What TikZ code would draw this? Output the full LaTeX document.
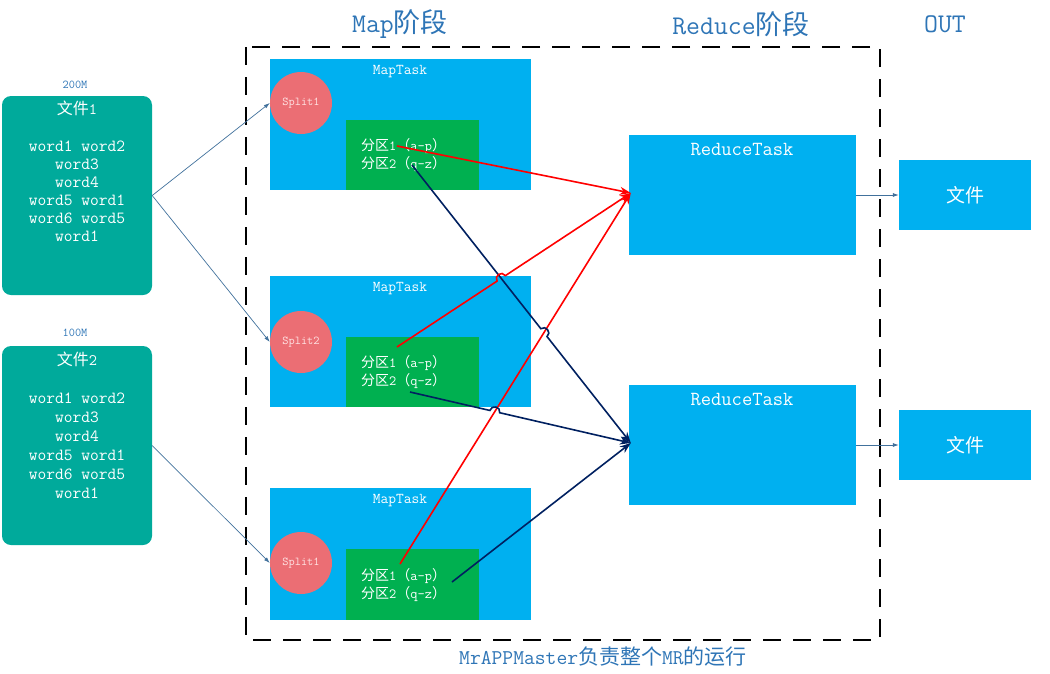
\documentclass[tikz,border=0pt]{standalone}
\usepackage{fontspec}
\newfontfamily\cjk{Noto Sans CJK SC}
\renewcommand{\familydefault}{\ttdefault}
\usetikzlibrary{arrows.meta,calc,intersections}
\definecolor{tealbox}{HTML}{00AA9B}
\definecolor{sky}{HTML}{00B0F0}
\definecolor{grn}{HTML}{00B050}
\definecolor{salmon}{HTML}{EB6E74}
\definecolor{ttl}{HTML}{2E75B6}
\definecolor{navyc}{HTML}{002060}
\definecolor{thinc}{HTML}{41719C}
\definecolor{pinkt}{HTML}{FFE4E4}
\newcommand{\zh}[1]{{\cjk #1}}
\begin{document}
\begin{tikzpicture}[x=1pt,y=-1pt,
  filebox/.style={draw=none,fill=tealbox,rounded corners=9pt,minimum width=150pt,minimum height=199pt,inner sep=0pt},
  maptask/.style={draw=none,fill=sky,minimum width=261pt,minimum height=131pt,inner sep=0pt},
  partbox/.style={draw=none,fill=grn,minimum width=133pt,minimum height=70pt,inner sep=0pt},
  splitc/.style={circle,draw=none,fill=salmon,minimum size=62pt,inner sep=0pt,text=pinkt,font=\fontsize{12}{14}\selectfont},
  redbox/.style={draw=none,fill=sky,minimum width=227pt,minimum height=120pt,inner sep=0pt},
  outbox/.style={draw=none,fill=sky,minimum width=132pt,minimum height=70pt,inner sep=0pt,text=white,font=\fontsize{19}{21}\selectfont},
  whitetxt/.style={text=white,inner sep=0pt},
  ttltxt/.style={text=ttl,inner sep=0pt},
  thinarrow/.style={draw=thinc,line width=0.7pt,-{Latex[length=6pt,width=4pt]}},
  redarrow/.style={draw=red,line width=1.6pt,-{Stealth[length=11pt,width=8pt]}},
  navyarrow/.style={draw=navyc,line width=1.6pt,-{Stealth[length=11pt,width=8pt]}},
  hop/.style={bend left=90,looseness=1.6}
]
\useasboundingbox (0,0) rectangle (1050,673);

% titles
\node[ttltxt,font=\fontsize{27}{29}\selectfont] (tmap) at (400,24) {Map\zh{阶段}};
\node[ttltxt,font=\fontsize{27}{29}\selectfont] (tred) at (741,24) {Reduce\zh{阶段}};
\node[ttltxt,font=\fontsize{27}{29}\selectfont] (tout) at (945,24) {OUT};
\node[ttltxt,font=\fontsize{21}{23}\selectfont] (tbot) at (603,657) {MrAPPMaster\zh{负责整个}MR\zh{的运行}};

% dashed frame
\draw[black,line width=2pt,dash pattern=on 18pt off 12pt] (246,47) rectangle (880,640);

% input files
\node[ttltxt,font=\fontsize{12}{13}\selectfont] (l200) at (75,85) {200M};
\node[filebox] (f1) at (77,195.5) {};
\node[whitetxt,font=\fontsize{16}{18}\selectfont] (f1t) at (77,108) {\zh{文件}1};
\node[whitetxt,font=\fontsize{17}{18}\selectfont,align=center] (f1w) at (77,191) {word1 word2\\word3\\word4\\word5 word1\\word6 word5\\word1};

\node[ttltxt,font=\fontsize{12}{13}\selectfont] (l100) at (75,333) {100M};
\node[filebox] (f2) at (77,445.5) {};
\node[whitetxt,font=\fontsize{16}{18}\selectfont] (f2t) at (77,359) {\zh{文件}2};
\node[whitetxt,font=\fontsize{17}{19}\selectfont,align=center] (f2w) at (77,445.5) {word1 word2\\word3\\word4\\word5 word1\\word6 word5\\word1};

% map tasks
\node[maptask] (m1) at (400.5,124.5) {};
\node[whitetxt,font=\fontsize{15}{16}\selectfont] (m1t) at (400,72) {MapTask};
\node[splitc] (s1) at (301,103) {Split1};
\node[partbox] (g1) at (412.5,155) {};
\node[whitetxt,font=\fontsize{14}{15}\selectfont,anchor=west] (g1a) at (361,146) {\zh{分区}1\zh{（}a-p\zh{）}};
\node[whitetxt,font=\fontsize{14}{15}\selectfont,anchor=west] (g1b) at (361,164) {\zh{分区}2\zh{（}q-z\zh{）}};

\node[maptask] (m2) at (400.5,341.5) {};
\node[whitetxt,font=\fontsize{15}{16}\selectfont] (m2t) at (400,289) {MapTask};
\node[splitc] (s2) at (301,342) {Split2};
\node[partbox] (g2) at (412.5,372) {};
\node[whitetxt,font=\fontsize{14}{15}\selectfont,anchor=west] (g2a) at (361,363) {\zh{分区}1\zh{（}a-p\zh{）}};
\node[whitetxt,font=\fontsize{14}{15}\selectfont,anchor=west] (g2b) at (361,381) {\zh{分区}2\zh{（}q-z\zh{）}};

\node[maptask,minimum height=132pt] (m3) at (400.5,554) {};
\node[whitetxt,font=\fontsize{15}{16}\selectfont] (m3t) at (400,501) {MapTask};
\node[splitc] (s3) at (301,563) {Split1};
\node[partbox,minimum height=71pt] (g3) at (412.5,584.5) {};
\node[whitetxt,font=\fontsize{14}{15}\selectfont,anchor=west] (g3a) at (361,576) {\zh{分区}1\zh{（}a-p\zh{）}};
\node[whitetxt,font=\fontsize{14}{15}\selectfont,anchor=west] (g3b) at (361,594) {\zh{分区}2\zh{（}q-z\zh{）}};

% reduce tasks
\node[redbox] (r1) at (742.5,195) {};
\node[whitetxt,font=\fontsize{20}{22}\selectfont] (r1t) at (742,150) {ReduceTask};
\node[redbox] (r2) at (742.5,445) {};
\node[whitetxt,font=\fontsize{20}{22}\selectfont] (r2t) at (742,400) {ReduceTask};

% outputs
\node[outbox] (o1) at (965,195) {\zh{文件}};
\node[outbox] (o2) at (965,445) {\zh{文件}};

% thin connectors
\draw[thinarrow] (f1.east) -- (s1.west);
\draw[thinarrow] (f1.east) -- (s2.west);
\draw[thinarrow] (f2.east) -- (s3.west);
\draw[thinarrow] (r1.east) -- (o1.west);
\draw[thinarrow] (r2.east) -- (o2.west);

% shuffle connectors
\coordinate (ra) at (397,146);
\coordinate (rb) at (397,347);
\coordinate (rc) at (400,564);
\coordinate (na) at (412,165);
\coordinate (nb) at (410,392);
\coordinate (nc) at (452,582);
\coordinate (R1in) at ($(r1.west)+(2,-2)$);
\coordinate (R2in) at ($(r2.west)+(2,-2)$);

\path[name path=pR2] (rb) -- (R1in);
\path[name path=pN1] (na) -- (R2in);
\path[name path=pR3] (rc) -- (R1in);
\path[name path=pN2] (nb) -- (R2in);
\path[name intersections={of=pR2 and pN1,by=xA}];
\path[name intersections={of=pN1 and pR3,by=xB}];
\path[name intersections={of=pN2 and pR3,by=xC}];

\draw[redarrow] (ra) -- (R1in);
\draw[redarrow] (rc) -- (R1in);
\draw[navyarrow] (na) -- ($(xB)!5pt!(na)$) to[hop] ($(xB)!5pt!(R2in)$) -- (R2in);
\draw[navyarrow] (nb) -- ($(xC)!5pt!(nb)$) to[hop] ($(xC)!5pt!(R2in)$) -- (R2in);
\draw[navyarrow] (nc) -- (R2in);
\draw[redarrow] (rb) -- ($(xA)!5pt!(rb)$) to[hop] ($(xA)!5pt!(R1in)$) -- (R1in);
\end{tikzpicture}
\end{document}
